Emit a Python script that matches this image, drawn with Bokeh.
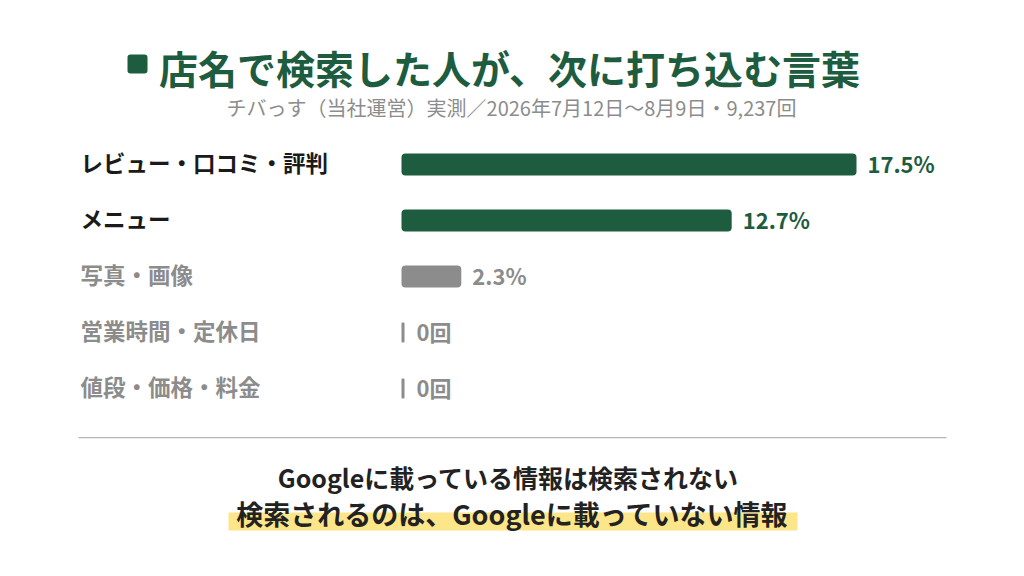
from bokeh.plotting import figure
from bokeh.models import Range1d, ColumnDataSource, Label, BoxAnnotation
from bokeh.core.properties import value
from bokeh.embed import file_html
from bokeh.resources import INLINE

# ---- data ----
categories = ["レビュー・口コミ・評判", "メニュー", "写真・画像", "営業時間・定休日", "値段・価格・料金"]
shares = [17.5, 12.7, 2.3, 0.0, 0.0]
value_labels = ["17.5%", "12.7%", "2.3%", "0回", "0回"]
emphasis = [True, True, False, False, False]

title_text = "店名で検索した人が、次に打ち込む言葉"
subtitle_text = "チバっす（当社運営）実測／2026年7月12日〜8月9日・9,237回"
note_line1 = "Googleに載っている情報は検索されない"
note_line2 = "検索されるのは、Googleに載っていない情報"

# ---- style ----
GREEN = "#1e5c3f"
GRAY = "#8c8c8c"
DARK = "#1a1a1a"
FONT = "Noto Sans CJK JP"

W, H = 1008, 560
PX_PER_UNIT = 26.0
ZERO_PX = 401.0
ROW0_PX = 164.0
ROW_STEP = 56.0
ZERO_MARK_PX = 3.0

def px_x(px):
    return (px - ZERO_PX) / PX_PER_UNIT

def sy(img_y):
    return H - img_y

def sx(img_x):
    return img_x

p = figure(width=W, height=H, output_backend="svg", toolbar_location=None,
           x_axis_type=None, y_axis_type=None,
           x_range=Range1d(-ZERO_PX / PX_PER_UNIT, (W - ZERO_PX) / PX_PER_UNIT),
           y_range=Range1d(-(H - ROW0_PX) / ROW_STEP, ROW0_PX / ROW_STEP),
           min_border=0, outline_line_color=None)
p.grid.visible = False
p.background_fill_color = "white"
p.border_fill_color = "white"

rows = [-i for i in range(len(categories))]
bar_colors = [GREEN if e else GRAY for e in emphasis]
cat_colors = [DARK if e else GRAY for e in emphasis]
val_colors = [GREEN if e else GRAY for e in emphasis]
label_offsets = [11 if v > 0 else 15 for v in shares]

src = ColumnDataSource(dict(cat=categories, y=rows, v=shares, lab=value_labels,
                            bc=bar_colors, cc=cat_colors, vc=val_colors,
                            off=label_offsets,
                            cx=[px_x(80)] * len(categories)))

nz = [i for i, v in enumerate(shares) if v > 0]
z = [i for i, v in enumerate(shares) if v == 0]
bar_src = ColumnDataSource(dict(y=[rows[i] for i in nz], v=[shares[i] for i in nz],
                                bc=[bar_colors[i] for i in nz]))
zero_src = ColumnDataSource(dict(y=[rows[i] for i in z],
                                 v=[shares[i] + ZERO_MARK_PX / PX_PER_UNIT for i in z]))

p.hbar(y="y", left=0, right="v", height=22 / ROW_STEP, source=bar_src,
       fill_color="bc", line_color=None, border_radius=4)
# zero values: a thin minimum-width marker
p.hbar(y="y", left=0, right="v", height=20 / ROW_STEP, source=zero_src,
       fill_color=GRAY, line_color=None, border_radius=1)

p.text(x="cx", y="y", text="cat", source=src, text_color="cc", y_offset=-3,
       text_font=value(FONT), text_font_style="bold", text_font_size="22.5px",
       text_align="left", text_baseline="middle")
p.text(x="v", y="y", text="lab", source=src, text_color="vc", x_offset="off", y_offset=-2,
       text_font=value(FONT), text_font_style="bold", text_font_size="22px",
       text_align="left", text_baseline="middle")

# title marker
p.add_layout(BoxAnnotation(left=sx(127), right=sx(147), top=sy(54), bottom=sy(73),
                           left_units="screen", right_units="screen",
                           top_units="screen", bottom_units="screen",
                           fill_color=GREEN, fill_alpha=1, line_color=None,
                           border_radius=3, level="overlay"))
p.add_layout(Label(x=sx(509), y=sy(66), x_units="screen", y_units="screen",
                   text=title_text, text_color=GREEN, text_font=FONT,
                   text_font_style="bold", text_font_size="39px",
                   text_align="center", text_baseline="middle"))
p.add_layout(Label(x=sx(511), y=sy(107), x_units="screen", y_units="screen",
                   text=subtitle_text, text_color=GRAY, text_font=FONT,
                   text_font_size="20px",
                   text_align="center", text_baseline="middle"))

# divider
p.add_layout(BoxAnnotation(left=sx(78), right=sx(946), top=sy(436.5), bottom=sy(437.7),
                           left_units="screen", right_units="screen",
                           top_units="screen", bottom_units="screen",
                           fill_color="#b5b5b5", fill_alpha=1, line_color=None))

# highlight
p.add_layout(BoxAnnotation(left=sx(228), right=sx(797), top=sy(512), bottom=sy(530),
                           left_units="screen", right_units="screen",
                           top_units="screen", bottom_units="screen",
                           fill_color="#fde68a", fill_alpha=1, line_color=None))
p.add_layout(Label(x=sx(508), y=sy(476), x_units="screen", y_units="screen",
                   text=note_line1, text_color="#222222", text_font=FONT,
                   text_font_style="bold", text_font_size="25px",
                   text_align="center", text_baseline="middle"))
p.add_layout(Label(x=sx(512), y=sy(513), x_units="screen", y_units="screen",
                   text=note_line2, text_color="#222222", text_font=FONT,
                   text_font_style="bold", text_font_size="27px",
                   text_align="center", text_baseline="middle"))

open("out.html", "w").write(file_html(p, INLINE))
